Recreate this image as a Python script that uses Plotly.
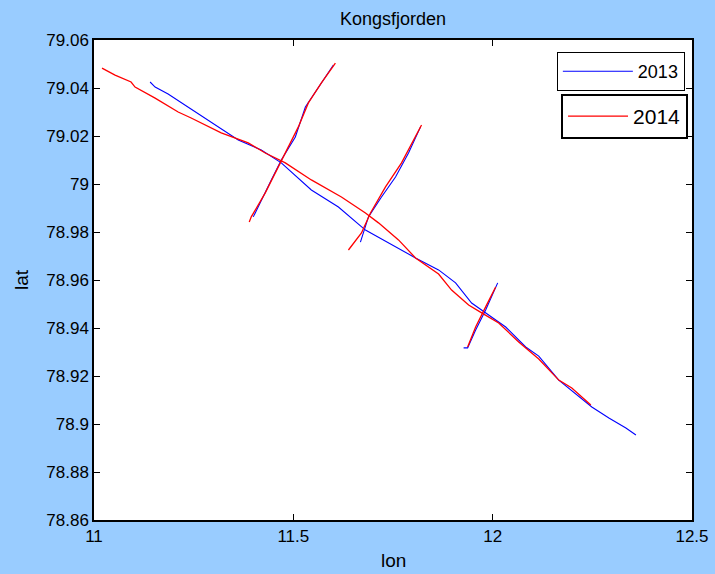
import plotly.graph_objects as go

# ---- data ----
# 2013 main track
lon13_main = [11.1407, 11.1533, 11.1859, 11.2362, 11.2940, 11.3618, 11.4196, 11.4698, 11.5452,
              11.6131, 11.6809, 11.7387, 11.8065, 11.8643, 11.9070, 11.9472, 11.9824, 12.0327,
              12.0829, 12.1156, 12.1658, 12.2161, 12.2487, 12.2915, 12.3342, 12.3593]
lat13_main = [79.0425, 79.0404, 79.0375, 79.0321, 79.0258, 79.0183, 79.0142, 79.0088, 78.9975,
              78.9904, 78.9808, 78.9754, 78.9692, 78.9642, 78.9588, 78.9504, 78.9463, 78.9404,
              78.9321, 78.9283, 78.9183, 78.9113, 78.9071, 78.9025, 78.8983, 78.8954]
# 2013 transects
lon13_t1 = [11.3995, 11.4196, 11.4447, 11.4698, 11.5050, 11.5302, 11.5628, 11.5955, 11.6005]
lat13_t1 = [78.9863, 78.9933, 79.0017, 79.0100, 79.0196, 79.0321, 79.0404, 79.0483, 79.0496]
lon13_t2 = [11.6683, 11.6884, 11.7211, 11.7563, 11.7889, 11.8191]
lat13_t2 = [78.9758, 78.9863, 78.9946, 79.0029, 79.0129, 79.0238]
lon13_t3 = [11.9271, 11.9372, 11.9573, 11.9824, 12.0126]
lat13_t3 = [78.9317, 78.9317, 78.9392, 78.9475, 78.9588]

# 2014 main track
lon14_main = [11.0201, 11.0528, 11.0930, 11.1030, 11.1533, 11.2111, 11.2437, 11.3191, 11.3869,
              11.4296, 11.4799, 11.5452, 11.6206, 11.6809, 11.7136, 11.7638, 11.8065, 11.8643,
              11.8970, 11.9397, 11.9724, 12.0151, 12.0653, 12.1156, 12.1658, 12.1985, 12.2462]
lat14_main = [79.0483, 79.0454, 79.0425, 79.0404, 79.0358, 79.0300, 79.0275, 79.0213, 79.0171,
              79.0129, 79.0088, 79.0017, 78.9946, 78.9879, 78.9838, 78.9767, 78.9692, 78.9625,
              78.9558, 78.9496, 78.9463, 78.9421, 78.9342, 78.9271, 78.9183, 78.9150, 78.9079]
# 2014 transects
lon14_t1 = [11.3894, 11.3945, 11.4296, 11.4623, 11.5126, 11.5377, 11.5704, 11.6055]
lat14_t1 = [78.9842, 78.9863, 78.9963, 79.0071, 79.0238, 79.0338, 79.0421, 79.0504]
lon14_t2 = [11.6382, 11.6709, 11.6935, 11.7312, 11.7714, 11.8216]
lat14_t2 = [78.9725, 78.9796, 78.9879, 78.9988, 79.0088, 79.0246]
lon14_t3 = [11.9372, 11.9573, 11.9824, 12.0075]
lat14_t3 = [78.9321, 78.9404, 78.9488, 78.9571]

x_ticks = [11, 11.5, 12, 12.5]
x_tick_labels = ["11", "11.5", "12", "12.5"]
y_ticks = [78.86, 78.88, 78.9, 78.92, 78.94, 78.96, 78.98, 79, 79.02, 79.04, 79.06]
y_tick_labels = ["78.86", "78.88", "78.9", "78.92", "78.94", "78.96", "78.98", "79", "79.02", "79.04", "79.06"]


def join(*segs):
    xs, ys = [], []
    for sx, sy in segs:
        if xs:
            xs.append(None)
            ys.append(None)
        xs += sx
        ys += sy
    return xs, ys


x13, y13 = join((lon13_main, lat13_main), (lon13_t1, lat13_t1), (lon13_t2, lat13_t2), (lon13_t3, lat13_t3))
x14, y14 = join((lon14_main, lat14_main), (lon14_t1, lat14_t1), (lon14_t2, lat14_t2), (lon14_t3, lat14_t3))

FONT = "Liberation Sans, Arial, sans-serif"
BG = "rgb(153,204,255)"

fig = go.Figure()
fig.add_trace(go.Scatter(x=x13, y=y13, mode="lines", name="2013",
                         line=dict(color="#0000FF", width=1.1), legend="legend", showlegend=True))
fig.add_trace(go.Scatter(x=x14, y=y14, mode="lines", name="2014",
                         line=dict(color="#FF0000", width=1.3), legend="legend2", showlegend=True))

axis_common = dict(showline=True, linecolor="black", linewidth=1.5, mirror="allticks",
                   ticks="inside", ticklen=6, tickcolor="black", showgrid=False, zeroline=False,
                   automargin=False,
                   tickfont=dict(family=FONT, size=17, color="black"))

fig.update_layout(
    width=715, height=574,
    showlegend=True,
    paper_bgcolor=BG, plot_bgcolor="white",
    margin=dict(l=94, r=23, t=40, b=54),
    font=dict(family=FONT, color="black"),
    title=dict(text="Kongsfjorden", x=0.5, xref="paper", xanchor="center",
               y=1 - 19 / 574, yanchor="middle", font=dict(size=18, family=FONT, color="black")),
    xaxis=dict(range=[11, 12.5], tickvals=x_ticks, ticktext=x_tick_labels, **axis_common),
    yaxis=dict(range=[78.86, 79.06], tickvals=y_ticks, ticktext=y_tick_labels, **axis_common),
    annotations=[
        dict(text="lon", xref="paper", yref="paper", x=0.5, y=-40 / 480, xanchor="center",
             yanchor="middle", showarrow=False, font=dict(size=19, family=FONT, color="black")),
        dict(text="lat", xref="paper", yref="paper", x=-73 / 598, y=0.5, xanchor="center",
             yanchor="middle", textangle=-90, showarrow=False,
             font=dict(size=19, family=FONT, color="black")),
    ],
    legend=dict(x=0.774, y=0.975, xanchor="left", yanchor="top", bgcolor="white",
                bordercolor="black", borderwidth=1, font=dict(size=18, family=FONT),
                itemwidth=70, tracegroupgap=0),
    legend2=dict(x=0.781, y=0.8875, xanchor="left", yanchor="top", bgcolor="white",
                 bordercolor="black", borderwidth=2, font=dict(size=21, family=FONT),
                 itemwidth=60, tracegroupgap=0),
)

fig.write_html("out.html")
